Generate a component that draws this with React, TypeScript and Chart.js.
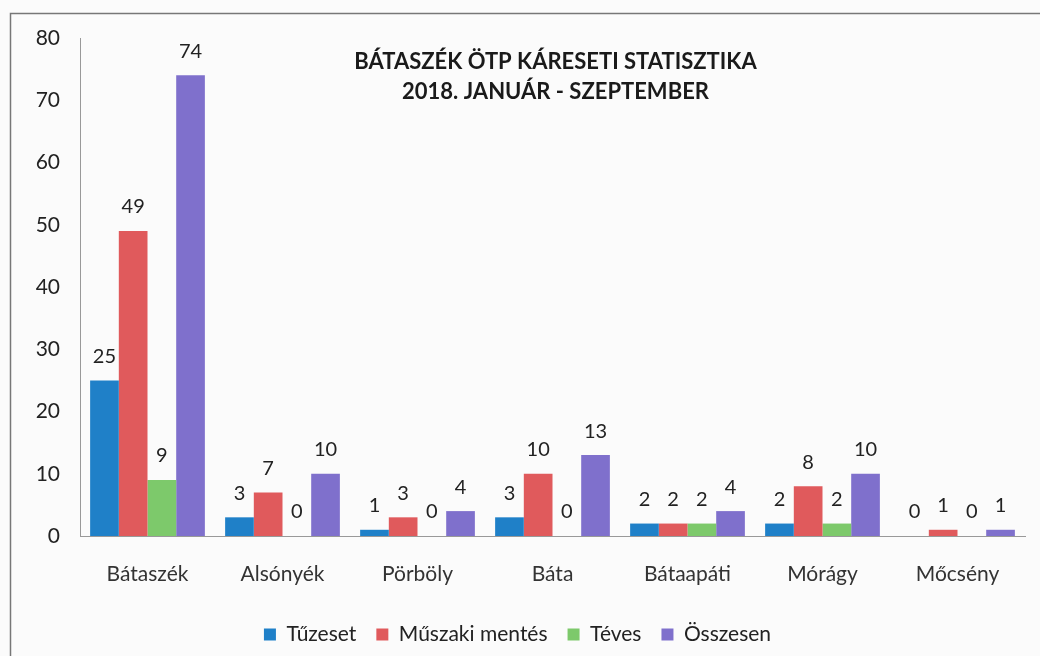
import React, { useEffect, useRef } from "react";
import { Chart, registerables } from "chart.js";

Chart.register(...registerables);

const categories = ["Bátaszék", "Alsónyék", "Pörböly", "Báta", "Bátaapáti", "Mórágy", "Mőcsény"];
const tuzeset = [25, 3, 1, 3, 2, 2, 0];
const muszaki = [49, 7, 3, 10, 2, 8, 1];
const teves = [9, 0, 0, 0, 2, 2, 0];
const osszesen = [74, 10, 4, 13, 4, 10, 1];
const seriesNames = ["Tűzeset", "Műszaki mentés", "Téves", "Összesen"];
const titleLines = ["BÁTASZÉK ÖTP KÁRESETI STATISZTIKA", "2018. JANUÁR - SZEPTEMBER"];
const yTicks = [0, 10, 20, 30, 40, 50, 60, 70, 80];

const FONT = "Lato, 'Open Sans', sans-serif";

const labelPlugin = {
  id: "barLabels",
  afterDatasetsDraw(chart: any) {
    const ctx = chart.ctx;
    ctx.save();
    ctx.font = `20px ${FONT}`;
    ctx.fillStyle = "#222";
    ctx.textAlign = "center";
    ctx.textBaseline = "middle";
    chart.data.datasets.forEach((ds: any, i: number) => {
      const meta = chart.getDatasetMeta(i);
      meta.data.forEach((el: any, j: number) => {
        ctx.fillText(String(ds.data[j]), el.x, el.y - 24);
      });
    });
    ctx.restore();
  },
};

const titlePlugin = {
  id: "overlayTitle",
  afterDraw(chart: any) {
    const ctx = chart.ctx;
    const a = chart.chartArea;
    const cx = (a.left + a.right) / 2 + 3;
    ctx.save();
    ctx.font = `bold 22px ${FONT}`;
    ctx.fillStyle = "#1a1a1a";
    ctx.textAlign = "center";
    ctx.textBaseline = "middle";
    titleLines.forEach((t, i) => ctx.fillText(t, cx, a.top + 24 + i * 30));
    ctx.restore();
  },
};

const bgPlugin = {
  id: "bg",
  beforeDraw(chart: any) {
    const ctx = chart.ctx;
    ctx.save();
    ctx.fillStyle = "#fbfbfb";
    ctx.fillRect(0, 0, chart.width, chart.height);
    ctx.strokeStyle = "#777";
    ctx.lineWidth = 1.5;
    ctx.strokeRect(10.5, 13.5, chart.width + 20, chart.height + 20);
    ctx.restore();
  },
};

export default function App() {
  const ref = useRef<HTMLCanvasElement>(null);
  useEffect(() => {
    const chart = new Chart(ref.current!, {
      type: "bar",
      data: {
        labels: categories,
        datasets: [
          { label: seriesNames[0], data: tuzeset, backgroundColor: "#1f80c8" },
          { label: seriesNames[1], data: muszaki, backgroundColor: "#e05a5c" },
          { label: seriesNames[2], data: teves, backgroundColor: "#7dc96b" },
          { label: seriesNames[3], data: osszesen, backgroundColor: "#7f70cc" },
        ],
      },
      options: {
        responsive: false,
        animation: false,
        layout: { padding: { left: 10, right: 15, top: 38, bottom: 1 } },
        plugins: {
          legend: {
            position: "bottom",
            labels: {
              font: { family: FONT, size: 21 },
              color: "#222",
              boxWidth: 12,
              boxHeight: 12,
              padding: 20,
            },
          },
          title: { display: false },
          tooltip: { enabled: false },
        },
        datasets: { bar: { categoryPercentage: 0.85, barPercentage: 1.0 } },
        scales: {
          x: {
            afterFit: (s: any) => {
              s.height = 68;
            },
            grid: { display: false, drawTicks: false },
            border: { color: "#999", width: 1 },
            ticks: { font: { family: FONT, size: 21 }, color: "#333", padding: 26 },
          },
          y: {
            min: 0,
            max: 80,
            afterBuildTicks: (s: any) => {
              s.ticks = yTicks.map((v) => ({ value: v }));
            },
            afterFit: (s: any) => {
              s.width = 70;
            },
            grid: { display: false, drawTicks: false },
            border: { color: "#999", width: 1 },
            ticks: { font: { family: FONT, size: 21 }, color: "#222", padding: 20 },
          },
        },
      } as any,
      plugins: [bgPlugin, labelPlugin, titlePlugin],
    });
    return () => chart.destroy();
  }, []);
  return (
    <div style={{ position: "absolute", left: 0, top: 0, width: 1040, height: 656 }}>
      <canvas ref={ref} width={1040} height={656} />
    </div>
  );
}
